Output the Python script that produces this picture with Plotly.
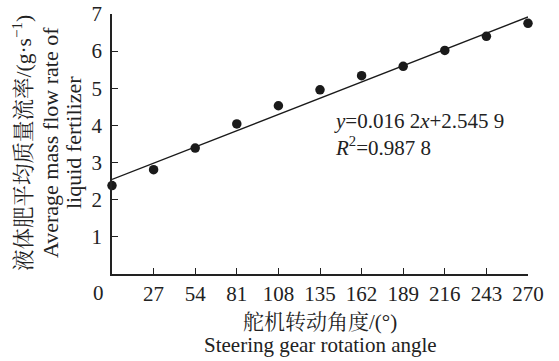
import plotly.graph_objects as go

angles = [0, 27, 54, 81, 108, 135, 162, 189, 216, 243, 270]
flow = [2.38, 2.81, 3.39, 4.04, 4.53, 4.96, 5.34, 5.59, 6.02, 6.40, 6.75]
slope = 0.0162
intercept = 2.5459
x_ticks = [27, 54, 81, 108, 135, 162, 189, 216, 243, 270]
y_ticks = [1, 2, 3, 4, 5, 6, 7]

FONT = "Liberation Serif, Times New Roman, Noto Serif CJK SC, Noto Sans CJK SC, serif"

fit_x = [angles[0], angles[-1]]
fit_y = [intercept + slope * v for v in fit_x]

fig = go.Figure()
fig.add_trace(go.Scatter(x=fit_x, y=fit_y, mode="lines",
                         line=dict(color="#1a1a1a", width=1.3),
                         cliponaxis=False, showlegend=False, hoverinfo="skip"))
fig.add_trace(go.Scatter(x=angles, y=flow, mode="markers",
                         marker=dict(color="#1a1a1a", size=9.5),
                         cliponaxis=False, showlegend=False))

fig.update_layout(
    width=559, height=361,
    margin=dict(l=112, r=31, t=14, b=87),
    paper_bgcolor="white", plot_bgcolor="white",
    font=dict(family=FONT, size=20, color="#222"),
    xaxis=dict(range=[0, 270], tickvals=x_ticks, ticks="inside", ticklen=6,
               tickcolor="#222", showline=True, linecolor="#222", linewidth=1.5,
               showgrid=False, zeroline=False, tickfont=dict(size=21),
               ticklabelstandoff=0, automargin=False),
    yaxis=dict(range=[0, 7], tickvals=y_ticks, ticks="inside", ticklen=6,
               tickcolor="#222", showline=True, linecolor="#222", linewidth=1.5,
               showgrid=False, zeroline=False, tickfont=dict(size=21),
               ticklabelstandoff=4, automargin=False),
)

fig.add_annotation(x=0, y=0, xref="x", yref="y", text="0", showarrow=False,
                   xanchor="center", yanchor="top", xshift=-14, yshift=-5,
                   font=dict(size=21))

# x axis title lines
fig.add_annotation(x=0.5, y=322, xref="paper", yref="paper", text="舵机转动角度/(°)",
                   showarrow=False, xanchor="center", yanchor="middle",
                   font=dict(size=21))
fig.add_annotation(x=0.5, y=345, xref="paper", yref="paper", text="Steering gear rotation angle",
                   showarrow=False, xanchor="center", yanchor="middle",
                   font=dict(size=21))

# y axis title lines
ytitle_lines = ["液体肥平均质量流率/(g·s<sup>−1</sup>)", "Average mass flow rate of", "liquid fertilizer"]
ytitle_x = [22, 50, 73]
ytitle_size = [21.5, 22, 22]
for txt, px, sz in zip(ytitle_lines, ytitle_x, ytitle_size):
    fig.add_annotation(x=px, y=143, xref="paper", yref="paper", text=txt,
                       showarrow=False, textangle=-90, xanchor="center", yanchor="middle",
                       font=dict(size=sz))

fig.add_annotation(x=143, y=3.75, xref="x", yref="y",
                   text="<i>y</i>=0.016 2<i>x</i>+2.545 9<br><i>R</i><sup>2</sup>=0.987 8",
                   showarrow=False, xanchor="left", yanchor="middle", align="left",
                   font=dict(size=21))

# convert pixel positions for paper-referenced title annotations
W, H = 559, 361
L, R, T, B = 112, 31, 14, 87
pw, ph = W - L - R, H - T - B
for ann in fig.layout.annotations:
    if ann.xref == "paper" and ann.yref == "paper":
        if ann.text in ytitle_lines:
            ann.x = (ann.x - L) / pw
            ann.y = (H - B - ann.y) / ph
        else:
            ann.y = (H - B - ann.y) / ph

fig.write_html("out.html", config={"displayModeBar": False},
               post_script="document.body.style.margin='0';document.body.style.overflow='hidden';")
